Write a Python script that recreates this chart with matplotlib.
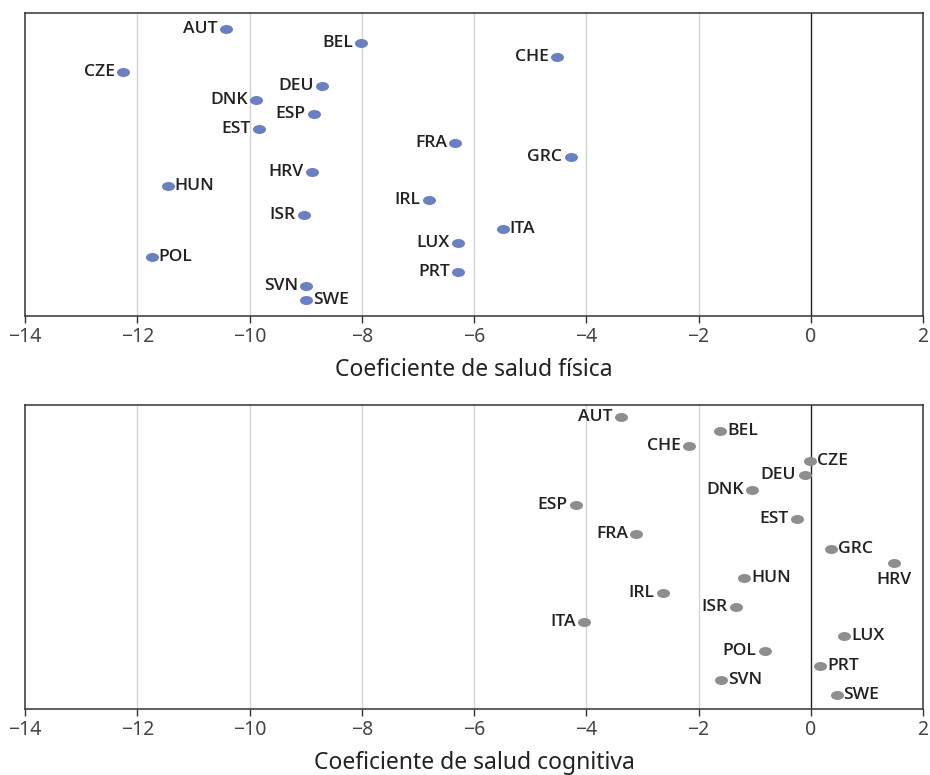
import matplotlib
matplotlib.use("Agg")
import matplotlib.pyplot as plt
from matplotlib.path import Path
from matplotlib.transforms import Affine2D

plt.rcParams['font.family'] = ['Noto Sans', 'DejaVu Sans']

# Pays (ordre d'affichage de haut en bas)
pays = ["AUT", "BEL", "CHE", "CZE", "DEU", "DNK", "ESP", "EST", "FRA", "GRC",
        "HRV", "HUN", "IRL", "ISR", "ITA", "LUX", "POL", "PRT", "SVN", "SWE"]

# Coefficients
sante_physique = [-10.42, -8.01, -4.52, -12.25, -8.71, -9.88, -8.85, -9.83, -6.33, -4.28,
                  -8.89, -11.46, -6.80, -9.03, -5.49, -6.28, -11.74, -6.28, -8.99, -8.99]
sante_cognitive = [-3.39, -1.61, -2.17, -0.01, -0.11, -1.04, -4.19, -0.24, -3.11, 0.36,
                   1.49, -1.19, -2.64, -1.33, -4.04, 0.60, -0.82, 0.17, -1.60, 0.46]

# Côté de l'étiquette (g = gauche, d = droite, b = dessous)
cote_physique = ["g", "g", "g", "g", "g", "g", "g", "g", "g", "g",
                 "g", "d", "g", "g", "d", "g", "d", "g", "g", "d"]
cote_cognitive = ["g", "d", "g", "d", "g", "g", "g", "g", "g", "d",
                  "b", "d", "g", "g", "g", "d", "g", "d", "d", "d"]

graduations = [-14, -12, -10, -8, -6, -4, -2, 0, 2]

# Marqueur en forme d'ellipse
cercle = Path.unit_circle()
ellipse = cercle.transformed(Affine2D().scale(1.45, 1.0))

fig = plt.figure(figsize=(9.3, 7.75), dpi=100)
ax1 = fig.add_axes([0.0269, 0.5923, 0.9656, 0.3909])
ax2 = fig.add_axes([0.0269, 0.0852, 0.9656, 0.3922])

style_etiq = dict(fontsize=12.6, color="#222222", fontweight="semibold",
                  family=["Open Sans", "Noto Sans", "DejaVu Sans"], va="center",
                  textcoords="offset points")


def trace(ax, valeurs, cotes, couleur, titre, ylim):
    y = list(range(len(pays)))
    for g in graduations[1:-1]:
        if g == 0:
            ax.axvline(0, color="#222222", lw=1.0, zorder=1)
        else:
            ax.axvline(g, color="#d3d3d3", lw=1.0, zorder=1)
    ax.scatter(valeurs, y, marker=ellipse, s=88, color=couleur, zorder=3, linewidths=0)
    for nom, v, yy, c in zip(pays, valeurs, y, cotes):
        if c == "g":
            ax.annotate(nom, (v, yy), xytext=(-6, 0), ha="right", **style_etiq)
        elif c == "d":
            ax.annotate(nom, (v, yy), xytext=(5, 0), ha="left", **style_etiq)
        else:
            ax.annotate(nom, (v, yy), xytext=(0, -12), ha="center", **style_etiq)
    ax.set_xlim(-14, 2)
    ax.set_ylim(*ylim)
    ax.set_yticks([])
    ax.set_xticks(graduations)
    ax.set_xticklabels([str(g).replace("-", "\u2212") for g in graduations])
    ax.tick_params(axis="x", length=5, width=1.0, color="#333333", labelsize=14,
                   labelcolor="#444444", pad=3)
    for s in ax.spines.values():
        s.set_color("#333333")
        s.set_linewidth(1.1)
    ax.set_xlabel(titre, fontsize=16.5, color="#222222", labelpad=8)


trace(ax1, sante_physique, cote_physique, "#6a80c4", "Coeficiente de salud física", (20.1, -1.1))
trace(ax2, sante_cognitive, cote_cognitive, "#8e8e8e", "Coeficiente de salud cognitiva", (19.95, -0.8))

fig.savefig("out.png", dpi=100)
